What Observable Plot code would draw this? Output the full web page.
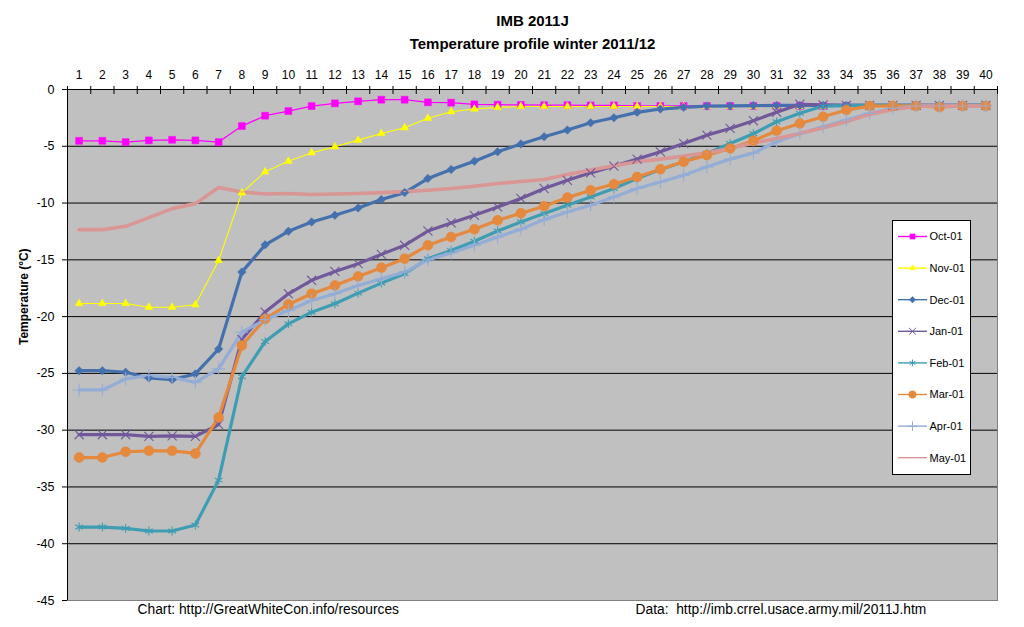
<!DOCTYPE html>
<html><head><meta charset="utf-8">
<script src="https://cdn.jsdelivr.net/npm/d3@7"></script>
<script src="https://cdn.jsdelivr.net/npm/@observablehq/plot@0.6"></script>
<style>
body{margin:0;background:#fff;font-family:"Liberation Sans",Arial,sans-serif;}
#wrap{position:relative;width:1024px;height:627px;overflow:hidden;}
</style></head><body><div id="wrap"></div>
<script>
// ---- data ----
const sensors = [1,2,3,4,5,6,7,8,9,10,11,12,13,14,15,16,17,18,19,20,21,22,23,24,25,26,27,28,29,30,31,32,33,34,35,36,37,38,39,40];
const yTicks = [0,-5,-10,-15,-20,-25,-30,-35,-40,-45];
const months = ["Oct-01","Nov-01","Dec-01","Jan-01","Feb-01","Mar-01","Apr-01","May-01"];
const title1 = "IMB 2011J";
const title2 = "Temperature profile winter 2011/12";
const yLabel = "Temperature (°C)";
const footLeft = "Chart: http://GreatWhiteCon.info/resources";
const footRight = "Data:  http://imb.crrel.usace.army.mil/2011J.htm";

const oct = [-4.52,-4.52,-4.63,-4.48,-4.43,-4.48,-4.63,-3.22,-2.31,-1.9,-1.46,-1.22,-1.04,-0.9,-0.9,-1.13,-1.16,-1.31,-1.34,-1.36,-1.38,-1.38,-1.4,-1.4,-1.45,-1.45,-1.45,-1.45,-1.45,-1.45,-1.45,-1.45,-1.45,-1.45,-1.45,-1.45,-1.45,-1.5,-1.45,-1.45];
const nov = [-18.84,-18.84,-18.84,-19.17,-19.17,-18.96,-15.05,-9.1,-7.25,-6.31,-5.57,-5.05,-4.46,-3.87,-3.37,-2.54,-1.96,-1.72,-1.57,-1.5,-1.5,-1.5,-1.5,-1.5,-1.5,-1.5,-1.5,-1.5,-1.5,-1.5,-1.5,-1.5,-1.5,-1.5,-1.5,-1.5,-1.5,-1.5,-1.5,-1.5];
const dec = [-24.76,-24.76,-24.9,-25.4,-25.55,-25.05,-22.85,-16.08,-13.68,-12.49,-11.67,-11.08,-10.43,-9.69,-9.08,-7.84,-7.05,-6.31,-5.49,-4.8,-4.16,-3.57,-2.93,-2.49,-2.01,-1.72,-1.57,-1.46,-1.45,-1.42,-1.4,-1.4,-1.4,-1.4,-1.4,-1.4,-1.4,-1.4,-1.4,-1.4];
const jan = [-30.4,-30.4,-30.4,-30.55,-30.5,-30.55,-29.5,-22.0,-19.6,-17.99,-16.8,-16.02,-15.34,-14.52,-13.72,-12.46,-11.75,-11.08,-10.34,-9.6,-8.72,-8.0,-7.34,-6.75,-6.13,-5.49,-4.75,-4.02,-3.43,-2.75,-2.0,-1.3,-1.35,-1.4,-1.4,-1.4,-1.4,-1.4,-1.4,-1.4];
const feb = [-38.53,-38.53,-38.65,-38.88,-38.88,-38.35,-34.4,-25.29,-22.2,-20.64,-19.61,-18.87,-17.93,-17.05,-16.22,-14.9,-14.17,-13.37,-12.46,-11.67,-10.93,-10.19,-9.46,-8.72,-7.84,-7.05,-6.37,-5.63,-4.75,-3.9,-2.84,-2.1,-1.46,-1.42,-1.4,-1.4,-1.4,-1.45,-1.4,-1.4];
const mar = [-32.41,-32.41,-31.9,-31.82,-31.82,-32.05,-28.88,-22.55,-20.2,-18.93,-17.99,-17.26,-16.46,-15.69,-14.9,-13.72,-12.99,-12.31,-11.52,-10.9,-10.28,-9.52,-8.87,-8.34,-7.7,-7.02,-6.37,-5.78,-5.19,-4.52,-3.63,-2.99,-2.4,-1.81,-1.46,-1.45,-1.45,-1.55,-1.45,-1.45];
const apr = [-26.46,-26.46,-25.49,-25.2,-25.35,-25.79,-24.6,-21.37,-20.28,-19.46,-18.58,-17.99,-17.26,-16.67,-16.08,-14.99,-14.4,-13.72,-12.99,-12.3,-11.46,-10.78,-10.19,-9.46,-8.72,-8.14,-7.55,-6.81,-6.13,-5.6,-4.6,-3.87,-3.28,-2.69,-2.1,-1.66,-1.45,-1.45,-1.45,-1.45];
const may = [-12.34,-12.34,-12.05,-11.28,-10.49,-10.05,-8.63,-9.02,-9.2,-9.16,-9.25,-9.2,-9.16,-9.08,-8.99,-8.87,-8.72,-8.52,-8.28,-8.1,-7.93,-7.49,-7.1,-6.72,-6.37,-6.13,-5.87,-5.58,-5.19,-4.72,-4.31,-3.87,-3.37,-2.84,-2.19,-1.75,-1.5,-1.45,-1.45,-1.45];

// ---- custom symbols ----
const diamondSym = {draw(ctx, size){ const a = Math.sqrt(size/2); ctx.moveTo(0,-a); ctx.lineTo(a,0); ctx.lineTo(0,a); ctx.lineTo(-a,0); ctx.closePath(); }};
const dashSym = {draw(ctx, size){ const a = Math.sqrt(size)/2; ctx.moveTo(-a,0); ctx.lineTo(a,0); }};

// ---- styles ----
const series = [
  {name: months[0], values: oct, color: "#FF00FF", width: 1.3, symbol: "square", r: 3.9, filled: true},
  {name: months[1], values: nov, color: "#FFFF00", width: 1.1, symbol: "triangle", r: 2.9, filled: true},
  {name: months[2], values: dec, color: "#4471AE", width: 3.2, symbol: diamondSym, r: 3.4, filled: true},
  {name: months[3], values: jan, color: "#71589A", width: 3.2, symbol: "times", r: 4.2, filled: false},
  {name: months[4], values: feb, color: "#3E9DB2", width: 3.2, symbol: "asterisk", r: 4.2, filled: false},
  {name: months[5], values: mar, color: "#E4893D", width: 3.2, symbol: "circle", r: 5, filled: true},
  {name: months[6], values: apr, color: "#93ADD6", width: 3.2, symbol: "plus", r: 4.2, filled: false},
  {name: months[7], values: may, color: "#D99695", width: 3.6, symbol: dashSym, r: 1.6, filled: false}
];

const rows = series.map(s => sensors.map((x, i) => ({sensor: x, temp: s.values[i], series: s.name})));
const bounds = [0.5, ...sensors.map(x => x + 0.5)];

const lineMarks = series.map((s, k) => Plot.line(rows[k], {x: "sensor", y: "temp", stroke: s.color, strokeWidth: s.width, strokeLinejoin: "round", strokeLinecap: "round"}));
const dotMarks = series.map((s, k) => Plot.dot(rows[k], {
  x: "sensor", y: "temp", symbol: () => s.symbol, r: s.r,
  fill: s.filled ? s.color : "none", stroke: s.color, strokeWidth: s.filled ? 0.5 : 1.1
}));

const chart = Plot.plot({
  width: 1024, height: 627,
  marginTop: 89, marginLeft: 67, marginRight: 27, marginBottom: 27,
  style: {fontFamily: '"Liberation Sans", Arial, sans-serif', background: "#fff", color: "#000"},
  x: {domain: [0.5, 40.5], axis: null},
  y: {domain: [-45, 0], axis: null},
  symbol: {type: "identity"},
  marks: [
    Plot.frame({fill: "#C0C0C0"}),
    Plot.ruleY(yTicks.filter(v => v < 0 && v > -45), {stroke: "#000", strokeWidth: 1}),
    Plot.frame({stroke: "#808080", strokeWidth: 1}),
    Plot.ruleY([0], {stroke: "#000", strokeWidth: 1}),
    Plot.ruleX([0.5], {stroke: "#000", strokeWidth: 1}),
    Plot.ruleX(bounds, {y1: 0, y2: -0.44, stroke: "#000"}),
    Plot.axisX({anchor: "top", ticks: bounds, tickSize: 4, tickFormat: () => "", label: null}),
    Plot.axisX({anchor: "top", ticks: sensors, tickSize: 0, tickPadding: 11, fontSize: 12, label: null, tickFormat: d => String(d)}),
    Plot.axisY({ticks: yTicks, tickSize: 5, tickPadding: 8, fontSize: 12.5, label: null, tickFormat: d => String(d)}),
    ...lineMarks,
    ...dotMarks,
    Plot.text([yLabel], {frameAnchor: "left", rotate: -90, dx: -43, fontSize: 12, fontWeight: "bold", lineAnchor: "middle"}),
    Plot.text([title1], {frameAnchor: "top", dy: -68, fontSize: 15, fontWeight: "bold", lineAnchor: "middle"}),
    Plot.text([title2], {frameAnchor: "top", dy: -45, fontSize: 15, fontWeight: "bold", lineAnchor: "middle"}),
    Plot.text([footLeft], {frameAnchor: "bottom-left", dx: 70, dy: 9, fontSize: 13.8, textAnchor: "start", lineAnchor: "middle"}),
    Plot.text([footRight], {frameAnchor: "bottom-left", dx: 568, dy: 9, fontSize: 13.8, textAnchor: "start", lineAnchor: "middle"})
  ]
});
document.getElementById("wrap").appendChild(chart);

// ---- legend ----
const lg = d3.select("#wrap").append("svg")
  .attr("width", 80).attr("height", 256)
  .style("position", "absolute").style("left", "892px").style("top", "220px");
lg.append("rect").attr("x", 0.5).attr("y", 0.5).attr("width", 78).attr("height", 254)
  .attr("fill", "#fff").attr("stroke", "#000");
series.forEach((s, i) => {
  const cy = 16.5 + i * 31.6;
  const g = lg.append("g").attr("transform", `translate(0,${cy})`);
  g.append("line").attr("x1", 6).attr("x2", 35).attr("y1", 0).attr("y2", 0)
    .attr("stroke", s.color).attr("stroke-width", 1.4);
  const sym = typeof s.symbol === "string"
    ? {square: d3.symbolSquare, triangle: d3.symbolTriangle, times: d3.symbolTimes, asterisk: d3.symbolAsterisk, circle: d3.symbolCircle, plus: d3.symbolPlus}[s.symbol]
    : s.symbol;
  const rr = s.r * 0.75;
  g.append("path").attr("transform", "translate(20.5,0)")
    .attr("d", d3.symbol(sym, Math.PI * rr * rr)())
    .attr("fill", s.filled ? s.color : "none").attr("stroke", s.color).attr("stroke-width", s.filled ? 0.5 : 1);
  g.append("text").attr("x", 37.5).attr("y", 0).attr("dy", "0.35em")
    .attr("font-size", 11).attr("font-family", '"Liberation Sans", Arial, sans-serif').text(s.name);
});
</script>
</body></html>
